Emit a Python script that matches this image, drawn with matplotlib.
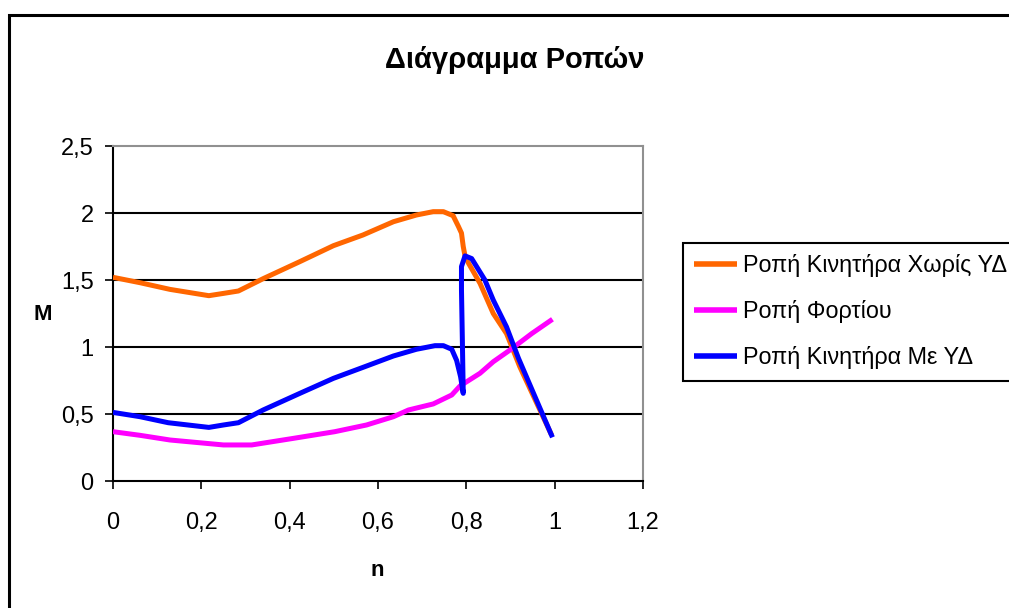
import matplotlib
matplotlib.use("Agg")
import matplotlib.pyplot as plt
from matplotlib.patches import Rectangle

plt.rcParams['font.family'] = ['Liberation Sans', 'DejaVu Sans']

# Ροπή Κινητήρα Χωρίς ΥΔ
n_motor = [0, 0.061, 0.129, 0.217, 0.25, 0.284, 0.34, 0.423, 0.499, 0.566,
           0.635, 0.687, 0.725, 0.748, 0.77, 0.782, 0.789, 0.793, 0.797,
           0.805, 0.831, 0.861, 0.891, 0.921, 0.993]
m_motor = [1.52, 1.48, 1.43, 1.383, 1.40, 1.418, 1.51, 1.637, 1.756, 1.836,
           1.935, 1.985, 2.01, 2.01, 1.98, 1.90, 1.85, 1.75, 1.68,
           1.625, 1.475, 1.25, 1.10, 0.853, 0.343]

# Ροπή Φορτίου
n_load = [0, 0.061, 0.129, 0.25, 0.314, 0.408, 0.502, 0.574, 0.635, 0.669,
          0.725, 0.767, 0.786, 0.831, 0.861, 0.899, 0.948, 0.995]
m_load = [0.368, 0.341, 0.306, 0.269, 0.269, 0.318, 0.368, 0.418, 0.48, 0.53,
          0.575, 0.642, 0.71, 0.804, 0.89, 0.978, 1.10, 1.207]

# Ροπή Κινητήρα Με ΥΔ
n_sd = [0, 0.061, 0.125, 0.217, 0.25, 0.284, 0.34, 0.423, 0.499, 0.566,
        0.635, 0.687, 0.729, 0.748, 0.767, 0.778, 0.787, 0.793, 0.791,
        0.789, 0.789, 0.797, 0.812, 0.842, 0.861, 0.891, 0.918, 0.995]
m_sd = [0.512, 0.48, 0.435, 0.40, 0.418, 0.435, 0.53, 0.654, 0.766, 0.848,
        0.933, 0.983, 1.01, 1.01, 0.983, 0.90, 0.778, 0.654, 1.05,
        1.425, 1.6, 1.68, 1.66, 1.50, 1.35, 1.15, 0.916, 0.326]

labels = ['Ροπή Κινητήρα Χωρίς ΥΔ', 'Ροπή Φορτίου', 'Ροπή Κινητήρα Με ΥΔ']
colors = ['#FF6600', '#FF00FF', '#0000FF']

x_ticks = [0, 0.2, 0.4, 0.6, 0.8, 1, 1.2]
x_tick_labels = ['0', '0,2', '0,4', '0,6', '0,8', '1', '1,2']
y_ticks = [0, 0.5, 1, 1.5, 2, 2.5]
y_tick_labels = ['0', '0,5', '1', '1,5', '2', '2,5']

W, H = 1009, 608
fig = plt.figure(figsize=(W / 100, H / 100), dpi=100)
ax = fig.add_axes([113 / W, 1 - 481 / H, (643 - 113) / W, (481 - 146) / H])

# outer chart border (cut off on the right and bottom)
fig.patches.append(Rectangle((9 / W, -0.1), 2.0, 1 - 15 / H + 0.1,
                             transform=fig.transFigure, fill=False,
                             edgecolor='black', linewidth=2.2, zorder=0))

for yv in y_ticks[1:-1]:
    ax.axhline(yv, color='black', linewidth=1.5, zorder=1)

series = [(n_motor, m_motor), (n_load, m_load), (n_sd, m_sd)]
for (xs, ys), lab, c in zip(series, labels, colors):
    ax.plot(xs, ys, color=c, linewidth=3.6, label=lab,
            solid_joinstyle='round', solid_capstyle='butt', zorder=3)

ax.set_xlim(0, 1.2)
ax.set_ylim(0, 2.5)
ax.set_xticks(x_ticks)
ax.set_xticklabels(x_tick_labels)
ax.set_yticks(y_ticks)
ax.set_yticklabels(y_tick_labels)
ax.tick_params(axis='both', direction='out', length=6, width=1.2,
               labelsize=17, colors='black')
ax.tick_params(axis='x', pad=16)
ax.tick_params(axis='y', pad=8)

for s in ['left', 'bottom']:
    ax.spines[s].set_color('black')
    ax.spines[s].set_linewidth(1.5)
for s in ['top', 'right']:
    ax.spines[s].set_color('#909090')
    ax.spines[s].set_linewidth(1.5)

fig.text(515 / W, 1 - 68 / H, 'Διάγραμμα Ροπών', ha='center', va='baseline',
         fontsize=21, fontweight='bold')
fig.text(43 / W, 1 - 314 / H, 'M', ha='center', va='center',
         fontsize=16, fontweight='bold')
fig.text(377 / W, 1 - 571 / H, 'n', ha='center', va='center',
         fontsize=16, fontweight='bold')

leg = ax.legend(loc='upper left', bbox_to_anchor=(683 / W, 1 - 243 / H),
                bbox_transform=fig.transFigure, fontsize=16.8, frameon=True,
                fancybox=False, shadow=False, framealpha=1,
                handlelength=1.85, handletextpad=0.25, labelspacing=0.99,
                borderpad=0.48, borderaxespad=0)
leg.get_frame().set_edgecolor('black')
leg.get_frame().set_linewidth(1.5)
for line in leg.get_lines():
    line.set_linewidth(4)

fig.savefig('out.png', dpi=100)
